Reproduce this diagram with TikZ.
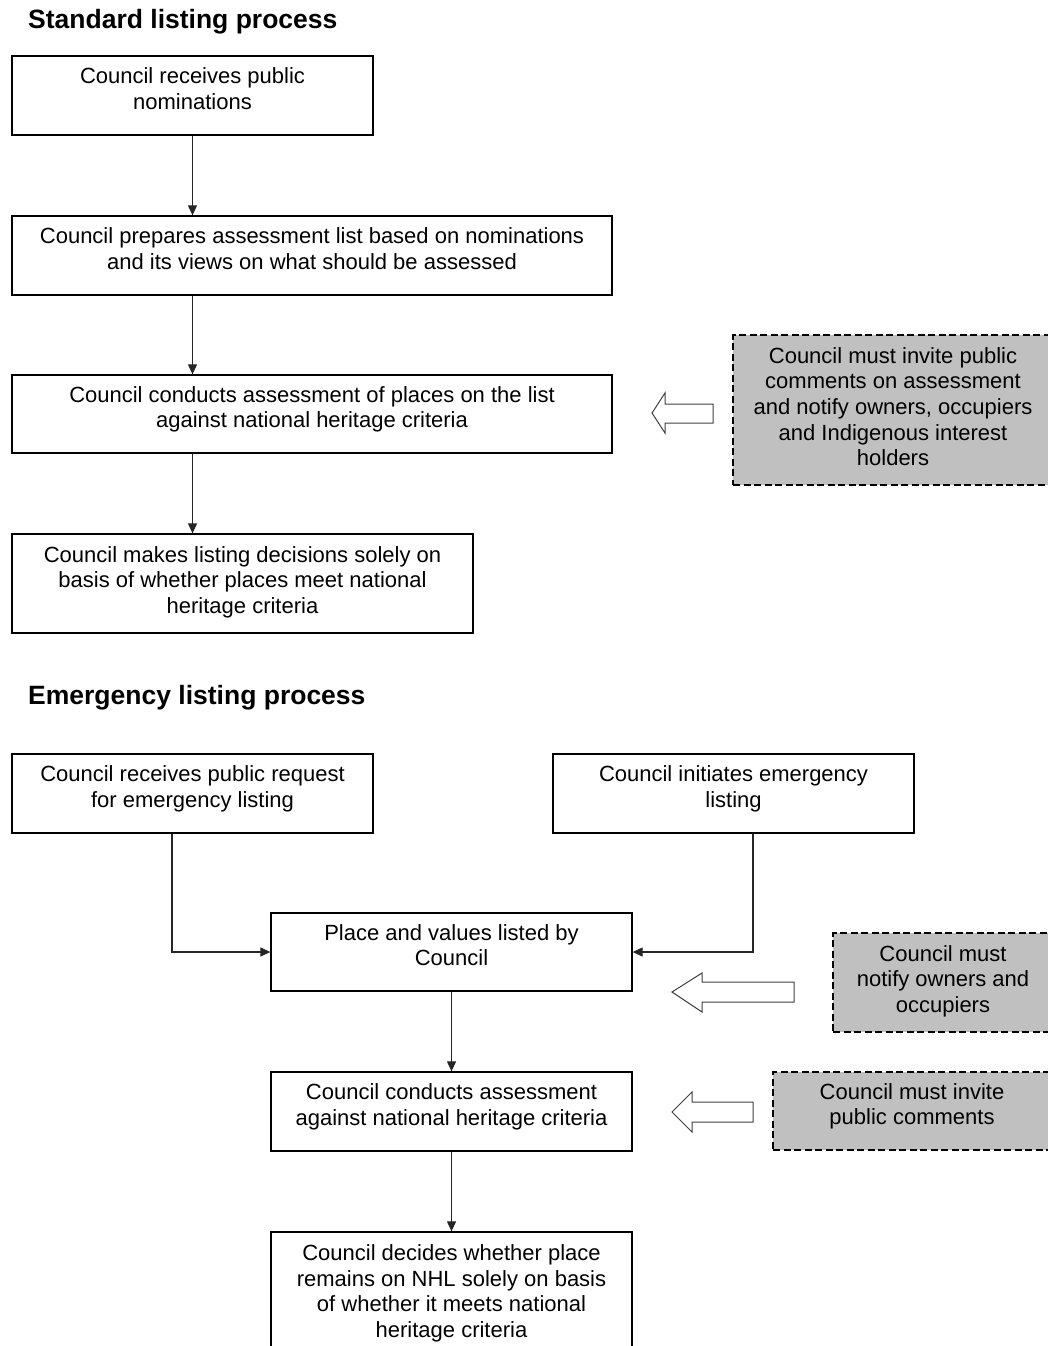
\documentclass[tikz,border=0pt]{standalone}
\usepackage{fontspec}
\setmainfont{Liberation Sans}
\usetikzlibrary{arrows.meta}
\definecolor{greyfill}{RGB}{192,192,192}
\tikzset{
  box/.style={draw=black, line width=1.3pt, rectangle, align=center, inner sep=2pt,
    font=\fontsize{22}{25.7}\selectfont, text depth=14pt},
  tall/.style={text depth=7pt},
  note/.style={box, fill=greyfill, dash pattern=on 7pt off 3.5pt},
  conn/.style={draw=black!85, line width=1.1pt, -{Triangle[length=10pt,width=9pt]}},
  title/.style={anchor=west, inner sep=0pt, font=\fontsize{26.5}{30}\selectfont\bfseries},
  hollow/.style={draw=black!75, line width=1pt, fill=white, line join=miter}
}
\begin{document}
\begin{tikzpicture}[x=1pt, y=-1pt]
\clip (0,0) rectangle (1048,1346);
\fill[white] (0,0) rectangle (1048,1346);

% Standard listing process
\node[title] (t1) at (28,22) {Standard listing process};
\node[box, minimum width=361pt, minimum height=79pt] (b1) at (192.5,95.5)
  {Council receives public\\nominations};
\node[box, minimum width=600pt, minimum height=79pt] (b2) at (312,255.5)
  {Council prepares assessment list based on nominations\\and its views on what should be assessed};
\node[box, minimum width=600pt, minimum height=78pt] (b3) at (312,414)
  {Council conducts assessment of places on the list\\against national heritage criteria};
\node[box, tall, minimum width=461pt, minimum height=99pt] (b4) at (242.5,583.5)
  {Council makes listing decisions solely on\\basis of whether places meet national\\heritage criteria};
\node[note, tall, minimum width=320pt, minimum height=150pt] (n1) at (893,410)
  {Council must invite public\\comments on assessment\\and notify owners, occupiers\\and Indigenous interest\\holders};

\draw[conn] (b1.south) -- (b1.south |- b2.north);
\draw[conn] (b2.south -| b1.south) -- (b3.north -| b1.south);
\draw[conn] (b3.south -| b1.south) -- (b4.north -| b1.south);

\draw[hollow] (652,413) -- (665,393) -- (665,404) -- (713,404) -- (713,423) -- (665,423) -- (665,433) -- cycle;

% Emergency listing process
\node[title] (t2) at (28,698) {Emergency listing process};
\node[box, minimum width=361pt, minimum height=79pt] (e1) at (192.5,793.5)
  {Council receives public request\\for emergency listing};
\node[box, minimum width=361pt, minimum height=79pt] (e2) at (733.5,793.5)
  {Council initiates emergency\\listing};
\node[box, minimum width=361pt, minimum height=78pt] (e3) at (451.5,952)
  {Place and values listed by\\Council};
\node[box, minimum width=361pt, minimum height=79pt] (e4) at (451.5,1111.5)
  {Council conducts assessment\\against national heritage criteria};
\node[box, tall, minimum width=361pt, minimum height=125pt] (e5) at (451.5,1294.5)
  {Council decides whether place\\remains on NHL solely on basis\\of whether it meets national\\heritage criteria};
\node[note, tall, minimum width=220pt, minimum height=99pt] (n2) at (943,982.5)
  {Council must\\notify owners and\\occupiers};
\node[note, minimum width=278pt, minimum height=78pt] (n3) at (912,1111)
  {Council must invite\\public comments};

\draw[conn] ([xshift=-20.5pt]e1.south) |- (e3.west);
\draw[conn] ([xshift=19.5pt]e2.south) |- (e3.east);
\draw[conn] (e3.south) -- (e4.north);
\draw[conn] (e4.south) -- (e5.north);

\draw[hollow] (672,992) -- (702,973) -- (702,982) -- (794,982) -- (794,1002) -- (702,1002) -- (702,1012) -- cycle;
\draw[hollow] (672,1112) -- (692,1092) -- (692,1102) -- (753,1102) -- (753,1122) -- (692,1122) -- (692,1132) -- cycle;
\end{tikzpicture}
\end{document}
